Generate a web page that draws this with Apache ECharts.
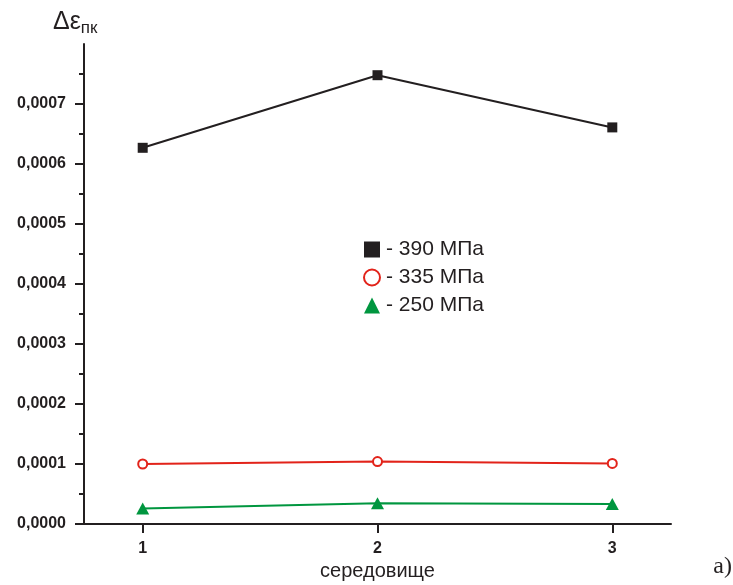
<!DOCTYPE html>
<html><head><meta charset="utf-8">
<script src="https://cdn.jsdelivr.net/npm/echarts@6/dist/echarts.min.js"></script>
<style>html,body{margin:0;padding:0;background:#fff}#c{width:733px;height:585px}</style>
</head><body><div id="c"></div>
<script>
const xValues = [1, 2, 3];
const s390 = [0.000627, 0.000748, 0.000661];
const s335 = [0.000100, 0.000104, 0.000101];
const s250 = [0.000026, 0.0000345, 0.0000335];
const seriesNames = ['390 МПа', '335 МПа', '250 МПа'];
const yTicks = [0, 0.0001, 0.0002, 0.0003, 0.0004, 0.0005, 0.0006, 0.0007];
const xTicks = [1, 2, 3];

const ink = '#231f20', red = '#e2231a', green = '#00963f';
const font = '"Liberation Sans", Arial, sans-serif';
const pairs = a => xValues.map((x, i) => [x, a[i]]);

const chart = echarts.init(document.getElementById('c'), null, {renderer: 'canvas'});
chart.setOption({
  animation: false,
  backgroundColor: '#fff',
  grid: {left: 84, right: 62, top: 44, bottom: 61, containLabel: false, outerBoundsMode: 'none'},
  xAxis: {
    type: 'value', min: 0.75, max: 3.25,
    name: 'середовище', nameLocation: 'middle', nameGap: 31,
    nameTextStyle: {fontFamily: font, fontSize: 20, color: ink},
    axisLine: {lineStyle: {color: ink, width: 2}},
    axisTick: {show: true, customValues: xTicks, length: 9, lineStyle: {color: ink, width: 2}},
    axisLabel: {customValues: xTicks, margin: 17, fontFamily: font, fontSize: 16, fontWeight: 'bold', color: ink},
    splitLine: {show: false}
  },
  yAxis: {
    type: 'value', min: 0, max: 0.0008, interval: 0.0001,
    axisLine: {show: true, lineStyle: {color: ink, width: 2}},
    axisTick: {show: true, customValues: yTicks, length: 9, lineStyle: {color: ink, width: 2}},
    minorTick: {show: true, splitNumber: 2, length: 5, lineStyle: {color: ink, width: 2}},
    axisLabel: {showMaxLabel: false, margin: 18, fontFamily: font, fontSize: 16, fontWeight: 'bold', color: ink,
      formatter: v => v.toFixed(4).replace('.', ',')},
    splitLine: {show: false}
  },
  legend: {
    orient: 'vertical', left: 358, top: 234, itemGap: 7, itemWidth: 16, itemHeight: 16,
    formatter: n => '- ' + n,
    textStyle: {fontFamily: font, fontSize: 21, color: ink, padding: [0, 0, 0, 1]},
    data: [
      {name: seriesNames[0], icon: 'rect', itemStyle: {color: ink, borderWidth: 0}},
      {name: seriesNames[1], icon: 'circle', itemStyle: {color: '#fff', borderColor: red, borderWidth: 2}},
      {name: seriesNames[2], icon: 'triangle', itemStyle: {color: green, borderWidth: 0}}
    ]
  },
  series: [
    {name: seriesNames[0], type: 'line', data: pairs(s390), symbol: 'rect', symbolSize: 10,
      lineStyle: {color: ink, width: 2}, itemStyle: {color: ink}},
    {name: seriesNames[1], type: 'line', data: pairs(s335), symbol: 'circle', symbolSize: 9,
      lineStyle: {color: red, width: 2}, itemStyle: {color: '#fff', borderColor: red, borderWidth: 2}},
    {name: seriesNames[2], type: 'line', data: pairs(s250), symbol: 'triangle', symbolSize: [13, 12],
      lineStyle: {color: green, width: 2}, itemStyle: {color: green}}
  ],
  graphic: [
    {type: 'text', left: 53, top: 10, style: {
      text: 'Δε{s|пк}', fill: ink, font: '25px ' + font,
      rich: {s: {fontSize: 17, fontFamily: font, fill: ink, verticalAlign: 'bottom', padding: [12, 0, 0, 0]}}
    }},
    {type: 'text', right: 1, top: 555, style: {text: 'a)', fill: ink, font: '24px "Liberation Serif", "Times New Roman", serif'}}
  ]
});
</script></body></html>
